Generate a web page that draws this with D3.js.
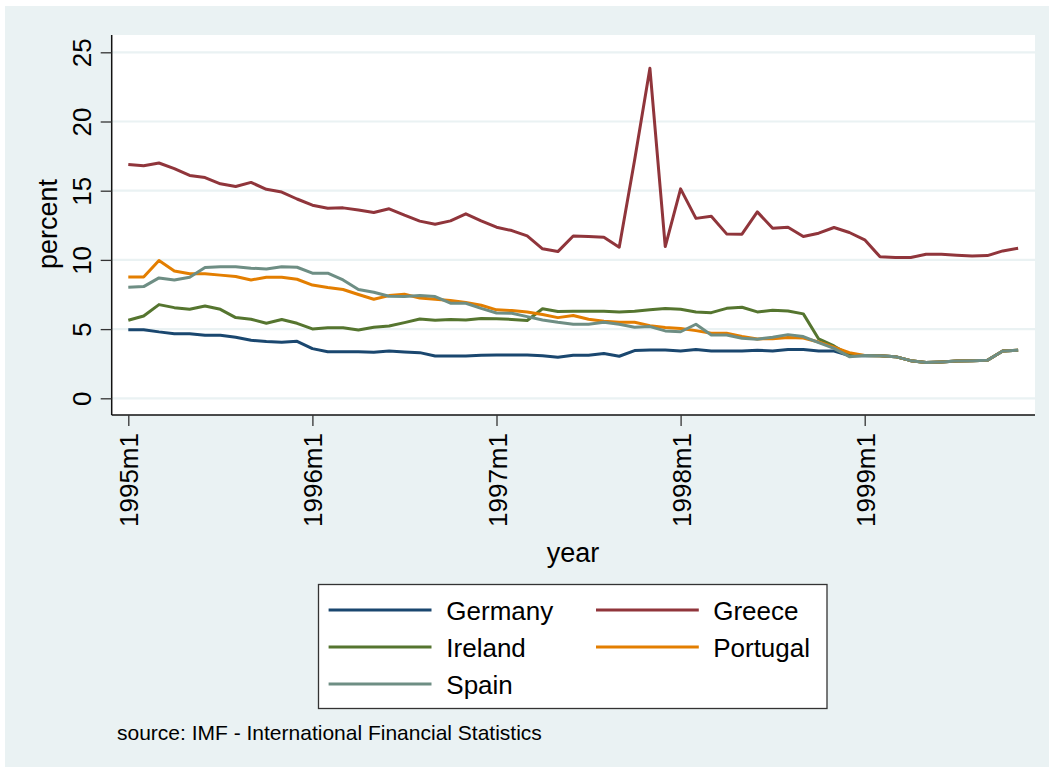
<!DOCTYPE html>
<html>
<head>
<meta charset="utf-8">
<script src="https://cdn.jsdelivr.net/npm/d3@7"></script>
<style>
  html, body { margin: 0; padding: 0; background: #ffffff; }
  svg { display: block; font-family: "Liberation Sans", Arial, sans-serif; }
</style>
</head>
<body>
<svg id="chart" width="1053" height="771"></svg>
<script>
// ---- data (monthly, 1995m1 .. 1999m11) ----
const startYear = 1995;
const nMonths = 59;
const germany = [4.96,4.96,4.80,4.67,4.67,4.55,4.55,4.41,4.19,4.10,4.05,4.12,
  3.59,3.37,3.37,3.37,3.33,3.42,3.35,3.30,3.06,3.06,3.06,3.11,
  3.13,3.13,3.13,3.08,2.96,3.11,3.11,3.23,3.04,3.45,3.49,3.49,
  3.42,3.52,3.42,3.42,3.42,3.47,3.42,3.52,3.52,3.42,3.42,3.08,
  3.10,3.08,3.01,2.72,2.58,2.63,2.70,2.72,2.75,3.42,3.47];
const greece = [16.9,16.8,17.0,16.6,16.1,15.95,15.5,15.3,15.6,15.1,14.9,14.4,
  13.95,13.73,13.76,13.6,13.42,13.69,13.23,12.8,12.58,12.82,13.33,12.82,
  12.36,12.12,11.73,10.8,10.6,11.73,11.69,11.64,10.92,17.2,23.84,10.96,
  15.13,13.0,13.16,11.88,11.86,13.47,12.29,12.36,11.69,11.93,12.34,11.98,
  11.45,10.22,10.17,10.17,10.41,10.41,10.34,10.29,10.31,10.65,10.84];
const ireland = [5.64,5.95,6.77,6.55,6.43,6.67,6.43,5.83,5.71,5.42,5.69,5.42,
  5.01,5.10,5.10,4.94,5.13,5.23,5.47,5.73,5.64,5.69,5.66,5.76,
  5.74,5.70,5.62,6.47,6.27,6.29,6.29,6.29,6.24,6.29,6.39,6.48,
  6.43,6.24,6.19,6.50,6.58,6.24,6.36,6.31,6.10,4.29,3.78,3.13,
  3.10,3.08,3.01,2.72,2.58,2.63,2.70,2.72,2.75,3.42,3.47];
const portugal = [8.77,8.77,9.95,9.20,9.00,9.00,8.90,8.80,8.55,8.75,8.75,8.60,
  8.18,8.00,7.86,7.50,7.16,7.42,7.52,7.25,7.16,7.06,6.92,6.72,
  6.39,6.34,6.24,6.05,5.83,5.98,5.71,5.57,5.49,5.49,5.25,5.11,
  5.04,4.89,4.70,4.70,4.46,4.29,4.31,4.39,4.36,4.07,3.69,3.30,
  3.10,3.08,3.01,2.72,2.58,2.63,2.70,2.72,2.75,3.42,3.47];
const spain = [8.02,8.07,8.70,8.55,8.75,9.45,9.50,9.50,9.40,9.35,9.50,9.47,
  9.04,9.04,8.55,7.86,7.66,7.37,7.35,7.42,7.35,6.87,6.87,6.50,
  6.16,6.14,5.90,5.66,5.49,5.35,5.35,5.49,5.35,5.13,5.18,4.87,
  4.81,5.35,4.58,4.58,4.34,4.27,4.41,4.60,4.46,4.02,3.61,3.01,
  3.10,3.08,3.01,2.72,2.58,2.63,2.70,2.72,2.75,3.42,3.47];
const seriesNames = ["Germany","Greece","Ireland","Portugal","Spain"];
const seriesColors = ["#1a476f","#90353b","#55752f","#e37e00","#6e8e84"];
const yTicks = [0,5,10,15,20,25];
const xTicks = [0,12,24,36,48];
const xTickLabels = ["1995m1","1996m1","1997m1","1998m1","1999m1"];
const yTitle = "percent";
const xTitle = "year";
const note = "source: IMF - International Financial Statistics";

const allSeries = [germany, greece, ireland, portugal, spain];

// ---- drawing ----
const svg = d3.select("#chart");
const bg = "#eaf2f3";

svg.append("rect").attr("x",5).attr("y",6).attr("width",1044).attr("height",761).attr("fill",bg);

const plot = {left:111.7, right:1035, top:35, bottom:415};
svg.append("rect").attr("x",plot.left).attr("y",plot.top)
  .attr("width",plot.right-plot.left).attr("height",plot.bottom-plot.top).attr("fill","#ffffff");

const x = d3.scaleLinear().domain([0,48]).range([128.3,864.7]);
const y = d3.scaleLinear().domain([0,25]).range([398.3,52.3]);

// gridlines
svg.append("g").selectAll("line").data(yTicks).join("line")
  .attr("x1",plot.left).attr("x2",plot.right)
  .attr("y1",d=>y(d)).attr("y2",d=>y(d))
  .attr("stroke",bg).attr("stroke-width",2.2);

// lines
const line = d3.line().x((d,i)=>x(i)).y(d=>y(d));
allSeries.forEach((s,k)=>{
  svg.append("path").datum(s).attr("d",line)
    .attr("fill","none").attr("stroke",seriesColors[k])
    .attr("stroke-width",3).attr("stroke-linejoin","round");
});

// y axis
const yAxis = d3.axisLeft(y).tickValues(yTicks).tickSize(11).tickPadding(4).tickFormat(d3.format("d"));
const gy = svg.append("g").attr("transform",`translate(${plot.left},0)`).call(yAxis);
gy.select(".domain").attr("d",`M0,${plot.top}V${plot.bottom}`).attr("stroke","#111").attr("stroke-width",1.5);
gy.selectAll(".tick line").attr("stroke","#333").attr("stroke-width",1.3);
gy.selectAll(".tick text")
  .attr("font-size",26).attr("fill","#000").attr("font-family","Liberation Sans, Arial, sans-serif")
  .attr("text-anchor","middle").attr("x",null).attr("dy",null)
  .attr("transform","translate(-21,0) rotate(-90)");

// x axis
const xAxis = d3.axisBottom(x).tickValues(xTicks).tickSize(11).tickFormat((d,i)=>xTickLabels[i]);
const gx = svg.append("g").attr("transform",`translate(0,${plot.bottom})`).call(xAxis);
gx.select(".domain").attr("d",`M${plot.left},0H${plot.right}`).attr("stroke","#111").attr("stroke-width",1.5);
gx.selectAll(".tick line").attr("stroke","#333").attr("stroke-width",1.3);
gx.selectAll(".tick text")
  .attr("font-size",26).attr("fill","#000").attr("font-family","Liberation Sans, Arial, sans-serif")
  .attr("text-anchor","end").attr("y",null).attr("dy",null)
  .attr("transform","translate(9.5,18) rotate(-90)");

// axis titles
svg.append("text").attr("transform","translate(57,224) rotate(-90)")
  .attr("text-anchor","middle").attr("font-size",27).attr("fill","#000").text(yTitle);
svg.append("text").attr("x",573).attr("y",562)
  .attr("text-anchor","middle").attr("font-size",27).attr("fill","#000").text(xTitle);

// legend
const leg = svg.append("g");
leg.append("rect").attr("x",318.5).attr("y",584.5).attr("width",508.5).attr("height",124)
  .attr("fill","#fff").attr("stroke","#333").attr("stroke-width",1.3);
const legCols = [{lx1:328.6,lx2:431.5,tx:446.3},{lx1:596,lx2:698.8,tx:713.2}];
const legRows = [610,647,684];
seriesNames.forEach((name,k)=>{
  const c = legCols[k%2], r = legRows[Math.floor(k/2)];
  leg.append("line").attr("x1",c.lx1).attr("x2",c.lx2).attr("y1",r).attr("y2",r)
    .attr("stroke",seriesColors[k]).attr("stroke-width",3);
  leg.append("text").attr("x",c.tx).attr("y",r+9.5).attr("font-size",26).attr("fill","#000").text(name);
});

// note
svg.append("text").attr("x",117).attr("y",740).attr("font-size",21).attr("fill","#000").text(note);
</script>
</body>
</html>
